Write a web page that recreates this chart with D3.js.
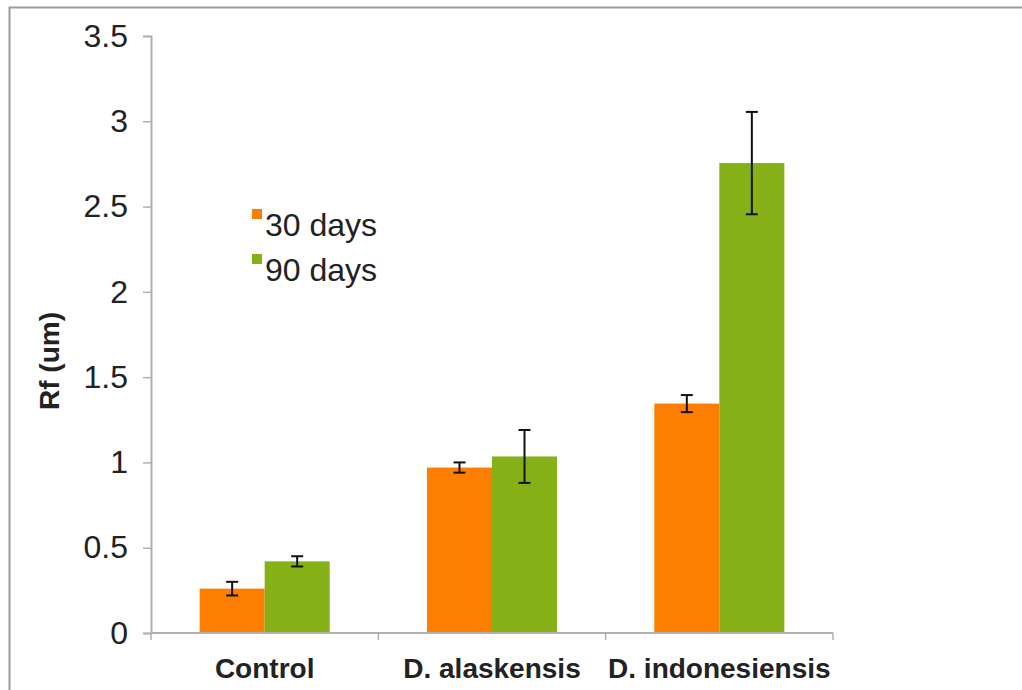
<!DOCTYPE html>
<html><head><meta charset="utf-8">
<script src="https://cdn.jsdelivr.net/npm/d3@7"></script>
<style>html,body{margin:0;padding:0;background:#fff;}svg{display:block;font-family:"Liberation Sans",Arial,Helvetica,sans-serif;}</style>
</head><body>
<svg id="chart" width="1022" height="690"></svg>
<script>
const categories = ["Control", "D. alaskensis", "D. indonesiensis"];
const seriesNames = ["30 days", "90 days"];
const values30 = [0.26, 0.97, 1.345];
const values90 = [0.42, 1.035, 2.755];
const err30 = [0.04, 0.03, 0.05];
const err90 = [0.03, 0.155, 0.30];
const yTicks = [0, 0.5, 1, 1.5, 2, 2.5, 3, 3.5];
const yTickLabels = ["0", "0.5", "1", "1.5", "2", "2.5", "3", "3.5"];
const colors = ["#fe7f00", "#85b116"];

const svg = d3.select("#chart");
// outer border
svg.append("rect").attr("x", 9.5).attr("y", 7.5).attr("width", 1030).attr("height", 700)
  .attr("fill", "none").attr("stroke", "#9a9a9a").attr("stroke-width", 2);

const y = d3.scaleLinear().domain([0, 3.5]).range([633, 36]);
const x = d3.scaleBand().domain(categories).range([151, 833]).padding(0);
const bw = x.bandwidth();
const groupW = bw * 0.572;
const x1 = d3.scaleBand().domain(seriesNames).range([(bw - groupW) / 2, (bw + groupW) / 2]).padding(0);

const data = [values30, values90];
const errs = [err30, err90];

// bars
seriesNames.forEach((s, si) => {
  svg.append("g").selectAll("rect").data(categories).join("rect")
    .attr("x", c => x(c) + x1(s))
    .attr("y", (c, i) => y(data[si][i]))
    .attr("width", x1.bandwidth())
    .attr("height", (c, i) => y(0) - y(data[si][i]))
    .attr("fill", colors[si]);
});

// axes
const yAxis = svg.append("g").attr("transform", "translate(151,0)")
  .call(d3.axisLeft(y).tickValues(yTicks).tickFormat((d, i) => yTickLabels[i]).tickSize(8).tickPadding(15));
yAxis.select(".domain").attr("stroke", "#b0b0b0").attr("stroke-width", 2);
yAxis.selectAll(".tick line").attr("stroke", "#b0b0b0").attr("stroke-width", 1.5);
yAxis.selectAll(".tick text").attr("font-size", 32).attr("fill", "#222").attr("font-family", "Liberation Sans, Arial, sans-serif");

// x axis line and ticks
svg.append("line").attr("x1", 151).attr("x2", 833).attr("y1", 633).attr("y2", 633)
  .attr("stroke", "#b0b0b0").attr("stroke-width", 2);
const bounds = categories.map(c => x(c)).concat([x(categories[categories.length - 1]) + bw]);
svg.append("g").selectAll("line").data(bounds).join("line")
  .attr("x1", d => d).attr("x2", d => d).attr("y1", 633).attr("y2", 640)
  .attr("stroke", "#b0b0b0").attr("stroke-width", 1.5);
svg.append("g").selectAll("text").data(categories).join("text")
  .attr("x", c => x(c) + bw / 2).attr("y", 678)
  .attr("text-anchor", "middle").attr("font-size", 28).attr("font-weight", "bold").attr("fill", "#222")
  .text(c => c);

// error bars
seriesNames.forEach((s, si) => {
  const g = svg.append("g");
  categories.forEach((c, i) => {
    const cx = x(c) + x1(s) + x1.bandwidth() / 2;
    const v = data[si][i], e = errs[si][i];
    g.append("line").attr("x1", cx).attr("x2", cx).attr("y1", y(v + e)).attr("y2", y(v - e))
      .attr("stroke", "#111").attr("stroke-width", 2);
    [v + e, v - e].forEach(t => g.append("line").attr("x1", cx - 6).attr("x2", cx + 6)
      .attr("y1", y(t)).attr("y2", y(t)).attr("stroke", "#111").attr("stroke-width", 2));
  });
});

// y axis title
svg.append("text").attr("transform", "translate(59,361) rotate(-90)")
  .attr("text-anchor", "middle").attr("font-size", 28).attr("font-weight", "bold").attr("fill", "#222")
  .text("Rf (um)");

// legend
const lg = svg.append("g");
seriesNames.forEach((s, i) => {
  lg.append("rect").attr("x", 252).attr("y", 209 + i * 45).attr("width", 10).attr("height", 10).attr("fill", colors[i]);
  lg.append("text").attr("x", 265).attr("y", 236 + i * 45).attr("font-size", 32).attr("fill", "#222").text(s);
});
</script>
</body></html>
